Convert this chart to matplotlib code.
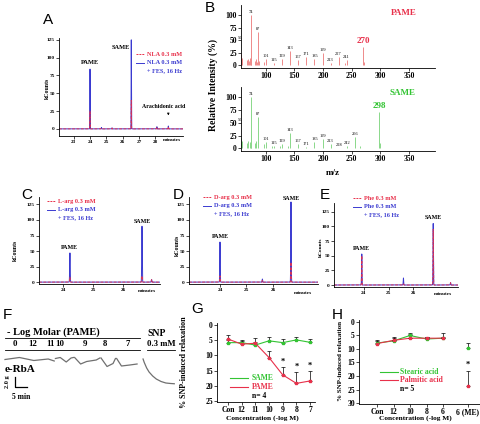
import numpy as np
import matplotlib.pyplot as plt
import matplotlib.transforms as mtransforms
from matplotlib.lines import Line2D

plt.rcParams['font.family'] = ['Liberation Serif', 'DejaVu Serif']
plt.rcParams['font.weight'] = 'bold'

W, H = 481, 424
RED = '#e8304a'
BLUE = '#3a3ad0'
GREEN = '#33c433'
LRED = '#ee8a8a'
LGREEN = '#8ad88a'

# ---- A: NLA chromatogram ----
a_peak_min = [24.0, 24.7, 25.35, 26.53, 28.1, 28.8]
a_fes_kc = [84, 2, 1.5, 125, 3, 4]
a_ctl_kc = [25, 1, 1, 40, 2, 3]

# ---- B: mass spectra (m/z, relative intensity) ----
pame_mz = [55, 57, 59, 67, 69, 71, 73, 74, 75, 81, 83, 85, 87, 88, 97, 101, 115, 129, 143,
           157, 171, 185, 199, 213, 227, 239, 241, 270, 271]
pame_int = [48, 22, 15, 10, 12, 8, 15, 100, 30, 8, 12, 6, 66, 8, 6, 12, 5, 12, 29,
            10, 16, 12, 24, 5, 16, 4, 10, 37, 6]
pame_lab = [55, 74, 87, 101, 115, 129, 143, 157, 171, 185, 199, 213, 227, 241]
same_mz = [55, 57, 59, 67, 69, 73, 74, 75, 81, 83, 87, 97, 101, 111, 115, 125, 129, 139, 143,
           157, 171, 185, 199, 213, 228, 242, 256, 265, 298, 299]
same_int = [50, 20, 15, 10, 14, 12, 100, 35, 10, 14, 62, 8, 12, 4, 4, 4, 8, 4, 30,
            8, 2, 12, 19, 8, 1, 4, 23, 5, 72, 10]
same_lab = [55, 74, 87, 101, 115, 129, 143, 157, 171, 185, 199, 213, 228, 242, 256]

# ---- C, D, E: chromatograms ----
c_peak_min = [24.23, 26.63, 26.95]
c_fes_kc = [47, 90, 4]
c_ctl_kc = [8, 10, 4]
d_peak_min = [24.0, 25.6, 26.68]
d_fes_kc = [64.5, 5, 129]
d_ctl_kc = [10, 3, 32]
e_peak_min = [23.92, 25.6, 26.8, 27.5]
e_fes_kc = [53, 12, 105, 4]
e_ctl_kc = [50, 2, 95, 4]

# ---- F: isometric trace (minutes, grams) ----
f_conc = ['0', '12', '11', '10', '9', '8', '7']
f_add_t = [4.2, 11.7, 18.75, 22.9, 33.3, 41.7, 51.25]
f_seg_t = [[0, 6, 12, 18, 20.5], [21, 23, 25.5, 27.5, 28.5], [29, 31.5, 34, 38, 39.5],
           [40, 42.5, 45, 46], [46.5, 48.5, 52, 55]]
f_seg_g = [[0.1, 0.5, -0.1, 0.2, -0.2], [0.3, 0.5, -0.4, 0.4, 0.5], [0.5, -0.8, -0.3, 0.0, 0.4],
           [0.4, -1.3, -0.7, 0.3], [0.3, -1.2, -1.0, -0.8]]
snp_t = [57.5, 58, 59, 60, 61.5, 63, 65, 67, 69, 70.5]
snp_g = [0.2, -0.5, -1.6, -2.4, -3.2, -3.8, -4.3, -4.6, -4.7, -4.75]

# ---- G ----
g_cats = ['Con', '12', '11', '10', '9', '8', '7']
same_mean = [5.8, 5.8, 6.6, 5.2, 5.8, 4.9, 5.7]
same_err = [1.0, 0.9, 0.9, 1.2, 1.1, 0.9, 1.0]
pame_mean = [4.6, 6.3, 6.0, 10.7, 16.4, 19.2, 18.4]
pame_err = [1.2, 1.0, 1.7, 2.3, 2.7, 3.9, 3.4]
g_star = [False, False, False, False, True, True, True]

# ---- H ----
h_cats = ['Con', '12', '10', '8', '6', '6 (ME)']
stearic_mean = [7.8, 7.0, 5.0, 6.3, 6.0, 9.8]
stearic_err = [0.8, 0.9, 0.6, 0.8, 0.6, 2.2]
palm_mean = [8.0, 6.8, 6.0, 6.0, 6.0, 23.8]
palm_err = [1.3, 1.2, 1.8, 0.6, 1.8, 5.8]

fig = plt.figure(figsize=(W / 100, H / 100), dpi=100)
pxT = mtransforms.Affine2D().scale(1 / W, -1 / H).translate(0, 1) + fig.transFigure


def add_ax(x0, y0, x1, y1):
    return fig.add_axes([x0 / W, 1 - y1 / H, (x1 - x0) / W, (y1 - y0) / H])


def ftext(x, y, s, **kw):
    kw.setdefault('va', 'center')
    fig.text(x, y, s, transform=pxT, **kw)


def fline(xs, ys, **kw):
    fig.add_artist(Line2D(xs, ys, transform=pxT, **kw))


def style(ax, fs):
    for s in ['top', 'right']:
        ax.spines[s].set_visible(False)
    for s in ['left', 'bottom']:
        ax.spines[s].set_linewidth(0.6)
    ax.tick_params(labelsize=fs, length=2, width=0.5, pad=1)


def chromatogram(ax, peaks, fes, ctl, xlim, ylim, xticks):
    t = np.linspace(xlim[0], xlim[1], 5000)
    yf = np.zeros_like(t)
    yc = np.zeros_like(t)
    for p, hf, hc in zip(peaks, fes, ctl):
        yf += hf * np.exp(-((t - p) / 0.012) ** 2)
        yc += hc * np.exp(-((t - p) / 0.012) ** 2)
    ax.plot(t, yf, color=BLUE, lw=0.7)
    ax.plot(t, yc, color=RED, lw=0.7, ls=(0, (3, 1.5)), alpha=0.9)
    ax.set_xlim(xlim)
    ax.set_ylim(ylim)
    ax.set_yticks([0, 25, 50, 75, 100, 125])
    ax.set_xticks(xticks)
    style(ax, 3.8)


def chrom_key(x, y, name, fs=4.5):
    fline([x, x + 8], [y, y], color=RED, lw=0.7, ls=(0, (2, 1)))
    ftext(x + 11, y, name, color=RED, fontsize=fs)
    fline([x, x + 8], [y + 9, y + 9], color=BLUE, lw=0.7)
    ftext(x + 11, y + 9, name, color=BLUE, fontsize=fs)
    ftext(x + 11, y + 17, '+ FES, 16 Hz', color=BLUE, fontsize=fs)


# ---------------- A ----------------
axA = add_ax(59, 38, 183, 136)
chromatogram(axA, a_peak_min, a_fes_kc, a_ctl_kc, (22.1, 29.7), (-10, 127.6), [23, 24, 25, 26, 27, 28])
axA.text(24.0, 93, 'PAME', fontsize=4.6, ha='center', va='center')
axA.text(25.9, 114, 'SAME', fontsize=4.6, ha='center', va='center')
axA.text(28.5, 31, 'Arachidonic acid', fontsize=4.2, ha='center', va='center')
axA.annotate('', xy=(28.8, 15), xytext=(28.8, 25),
             arrowprops=dict(arrowstyle='-|>', lw=0.5, mutation_scale=3, color='black'))
ftext(172, 138, 'minutes', fontsize=3.8, ha='center', va='top')
ftext(47, 88, 'kCounts', fontsize=4.2, rotation=90, ha='center')
chrom_key(136, 54, 'NLA 0.3 mM')

# ---------------- B ----------------
axB1 = add_ax(241, 5, 435, 68)
axB2 = add_ax(241, 87, 435, 151)
for ax, mz, inten, lab, col, tcol, name, big in [
        (axB1, pame_mz, pame_int, pame_lab, LRED, RED, 'PAME', 270),
        (axB2, same_mz, same_int, same_lab, LGREEN, GREEN, 'SAME', 298)]:
    ax.vlines(mz, 0, inten, color=col, lw=0.7)
    for m, h in zip(mz, inten):
        if m in lab:
            ax.text(m, h + 2, str(m), fontsize=3.2, ha='center', va='bottom', fontweight='normal')
        if m == big:
            ax.text(m, h + 3, str(m), fontsize=6.5, ha='center', va='bottom', color=tcol)
    ax.set_xlim(57, 395)
    ax.set_ylim(-5, 120)
    ax.set_yticks([0, 25, 50, 75, 100])
    ax.set_xticks([100, 150, 200, 250, 300, 350])
    style(ax, 5.5)
ftext(404, 13, 'PAME', color=RED, fontsize=6.5, ha='center')
ftext(403, 93, 'SAME', color=GREEN, fontsize=6.5, ha='center')
ftext(333, 173, 'm/z', fontsize=6.5, ha='center')
ftext(213, 85, 'Relative Intensity (%)', fontsize=7, rotation=90, ha='center')

# ---------------- C, D, E ----------------
axC = add_ax(39, 197, 160, 284)
chromatogram(axC, c_peak_min, c_fes_kc, c_ctl_kc, (23.2, 27.23), (-3, 137), [24, 25, 26])
axC.text(24.23, 55, 'PAME', fontsize=4.3, ha='center', va='center')
axC.text(26.63, 98, 'SAME', fontsize=4.3, ha='center', va='center')
ftext(147, 291, 'minutes', fontsize=3.8, ha='center')
ftext(15, 250, 'kCounts', fontsize=4.2, rotation=90, ha='center')
chrom_key(47, 201, 'L-arg 0.3 mM')

axD = add_ax(189, 197, 318, 284)
chromatogram(axD, d_peak_min, d_fes_kc, d_ctl_kc, (22.83, 27.7), (-3, 137), [24, 25, 26])
axD.text(24.0, 73, 'PAME', fontsize=4.3, ha='center', va='center')
axD.text(26.68, 135, 'SAME', fontsize=4.3, ha='center', va='center')
ftext(303, 293, 'minutes', fontsize=3.8, ha='center')
ftext(177, 245, 'kCounts', fontsize=4.2, rotation=90, ha='center')
chrom_key(203, 197, 'D-arg 0.3 mM')

axE = add_ax(334, 203, 458, 287)
chromatogram(axE, e_peak_min, e_fes_kc, e_ctl_kc, (22.8, 27.8), (-3.4, 140), [24, 25, 26])
axE.text(23.92, 63, 'PAME', fontsize=4.3, ha='center', va='center')
axE.text(26.8, 116, 'SAME', fontsize=4.3, ha='center', va='center')
ftext(443, 294, 'minutes', fontsize=3.8, ha='center')
ftext(321, 247, 'kCounts', fontsize=3.9, rotation=90, ha='center')
chrom_key(353, 198, 'Phe 0.3 mM')

# ---------------- F ----------------
axF = add_ax(0, 350, 181, 410)
axF.axis('off')
axF.set_xlim(-2.08, 73.3)
axF.set_ylim(-10, 2)
for ts, gs in zip(f_seg_t, f_seg_g):
    axF.plot(ts, gs, color='#707070', lw=0.9)
axF.plot(snp_t, snp_g, color='#707070', lw=0.9)
axF.plot([4.17, 4.17, 9.17], [-3.4, -5.4, -5.4], color='black', lw=0.9)
blend = mtransforms.blended_transform_factory(axF.transData, pxT)
for lab, t in zip(f_conc, f_add_t):
    axF.text(t, 344, lab, transform=blend, fontsize=6.3, ha='center', va='center')
ftext(7, 332, '- Log Molar (PAME)', fontsize=7.5)
fline([5, 140], [338, 338], color='black', lw=0.6)
fline([5, 140], [350, 350], color='black', lw=0.6)
ftext(147, 333, 'SNP', fontsize=7)
ftext(147, 344, '0.3 mM', fontsize=6.3)
fline([147, 175], [350, 350], color='black', lw=0.6)
ftext(5, 370, 'e-RbA', fontsize=8)
ftext(8, 382, '2.0 g', fontsize=4.5, rotation=90, ha='center')
ftext(21, 397, '5 min', fontsize=5.5, ha='center')

# ---------------- G ----------------
axG = add_ax(217, 323, 315, 402)
xg = np.arange(len(g_cats))
zero = np.zeros(len(g_cats))
axG.errorbar(xg, same_mean, yerr=[same_err, zero], color=GREEN, lw=0.8, marker='s', ms=1.8,
             ecolor='black', elinewidth=0.5, capsize=1.5, capthick=0.5)
axG.errorbar(xg, pame_mean, yerr=[pame_err, zero], color=RED, lw=0.8, marker='s', ms=1.8,
             ecolor='black', elinewidth=0.5, capsize=1.5, capthick=0.5)
for x, m, e, s in zip(xg, pame_mean, pame_err, g_star):
    if s:
        axG.text(x, m - e - 0.3, '*', fontsize=6, ha='center', va='bottom')
axG.set_xlim(-0.8, 6.36)
axG.set_ylim(25.33, -0.66)
axG.set_yticks([0, 5, 10, 15, 20, 25])
axG.set_xticks(xg)
axG.set_xticklabels(g_cats)
style(axG, 5.5)
fline([230, 248], [378, 378], color=GREEN, lw=0.8)
ftext(252, 378, 'SAME', color=GREEN, fontsize=5.5)
fline([230, 248], [387, 387], color=RED, lw=0.8)
ftext(252, 387, 'PAME', color=RED, fontsize=5.5)
ftext(252, 396, 'n= 4', fontsize=5.5)
ftext(262, 418, 'Concentration (-log M)', fontsize=5.3, ha='center')
ftext(184, 362, '% SNP-induced relaxation', fontsize=5.8, rotation=90, ha='center')

# ---------------- H ----------------
axH = add_ax(359, 320, 480, 404)
xh = np.append(np.arange(len(h_cats) - 1), len(h_cats) - 0.5)
zh = np.zeros(len(h_cats))
axH.plot(xh[:-1], stearic_mean[:-1], color=GREEN, lw=0.8)
axH.plot(xh[:-1], palm_mean[:-1], color=RED, lw=0.8)
axH.errorbar(xh, stearic_mean, yerr=[stearic_err, zh], color=GREEN, lw=0, marker='s', ms=1.8,
             ecolor='black', elinewidth=0.5, capsize=1.5, capthick=0.5)
axH.errorbar(xh, palm_mean, yerr=[palm_err, zh], color=RED, lw=0, marker='s', ms=1.8,
             ecolor='black', elinewidth=0.5, capsize=1.5, capthick=0.5)
axH.text(xh[-1], palm_mean[-1] - palm_err[-1] - 0.5, '*', fontsize=6, ha='center', va='bottom')
axH.set_xlim(-1.09, 6.24)
axH.set_ylim(30.37, -0.74)
axH.set_yticks([0, 5, 10, 15, 20, 25, 30])
axH.set_xticks(xh)
axH.set_xticklabels(h_cats)
style(axH, 5.5)
fline([380, 398], [372, 372], color=GREEN, lw=0.8)
ftext(400, 372, 'Stearic acid', color=GREEN, fontsize=5.5)
fline([380, 398], [380, 380], color=RED, lw=0.8)
ftext(400, 380, 'Palmitic acid', color=RED, fontsize=5.5)
ftext(400, 389, 'n= 5', fontsize=5.5)
ftext(415, 418, 'Concentration (-log M)', fontsize=5.3, ha='center')
ftext(341, 361, '% SNP-induced relaxation', fontsize=5.0, rotation=90, ha='center')

# ---------------- panel letters ----------------
for lab, x, y in [('A', 48, 20), ('B', 210, 8), ('C', 27, 195), ('D', 178, 195), ('E', 325, 195),
                  ('F', 7, 315), ('G', 197, 309), ('H', 337, 315)]:
    ftext(x, y, lab, fontsize=11, family='Liberation Sans', fontweight='normal', ha='center')

fig.savefig('out.png', dpi=100)
